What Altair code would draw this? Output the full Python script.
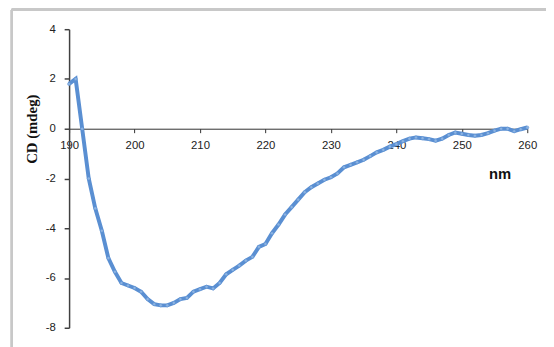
import altair as alt
import pandas as pd

wavelength = list(range(190, 261))
cd_mdeg = [
    1.8, 2.0, 0.0, -2.0, -3.2, -4.1, -5.2, -5.75, -6.2, -6.3,
    -6.4, -6.55, -6.85, -7.05, -7.1, -7.1, -7.0, -6.85, -6.8, -6.55,
    -6.45, -6.35, -6.42, -6.2, -5.85, -5.67, -5.5, -5.3, -5.15, -4.75,
    -4.63, -4.2, -3.85, -3.45, -3.15, -2.85, -2.55, -2.35, -2.2, -2.05,
    -1.95, -1.8, -1.55, -1.45, -1.35, -1.25, -1.1, -0.95, -0.85, -0.72,
    -0.62, -0.5, -0.4, -0.35, -0.38, -0.42, -0.48, -0.4, -0.25, -0.15,
    -0.2, -0.25, -0.28, -0.25, -0.18, -0.08, 0.0, 0.0, -0.1, -0.02,
    0.05,
]
x_ticks = [190, 200, 210, 220, 230, 240, 250, 260]
y_ticks = [4, 2, 0, -2, -4, -6, -8]

df = pd.DataFrame({"nm": wavelength, "cd": cd_mdeg})

W, H = 465, 303
LINE_COLOR = "#5A8FD2"

x_enc = alt.X(
    "nm:Q",
    scale=alt.Scale(domain=[190, 260], nice=False, zero=False),
    axis=alt.Axis(
        values=x_ticks, offset=-202, grid=False, domainColor="#303030",
        tickColor="#303030", tickSize=4, labelPadding=7, labelFlush=False,
        labelFont="Liberation Sans", labelFontSize=11.5, labelColor="#222",
        title="nm", titleFont="Liberation Sans", titleFontSize=15,
        titleFontWeight="bold", titleColor="#111", titleX=437, titleY=46,
        titleAlign="center", titleBaseline="middle",
    ),
)
y_enc = alt.Y(
    "cd:Q",
    scale=alt.Scale(domain=[-8, 4], nice=False, zero=False),
    axis=alt.Axis(
        values=y_ticks, grid=False, domainColor="#404040", domainWidth=1.5,
        tickColor="#404040", tickSize=5, tickWidth=1.5, labelPadding=9,
        labelFlush=False,
        labelExpr="datum.value < 0 ? '-' + abs(datum.value) : '' + datum.value",
        labelFont="Liberation Sans", labelFontSize=11.5, labelColor="#222",
        title="CD (mdeg)", titleFont="Liberation Serif", titleFontSize=15,
        titleFontWeight="bold", titleColor="#111", titleX=-38, titleY=101,
        titleAlign="center", titleBaseline="middle", titleAngle=-90,
    ),
)

line = alt.Chart(df).mark_line(
    color=LINE_COLOR, strokeWidth=4,
    point=alt.OverlayMarkDef(filled=True, fill="#8DB4E2", size=10, stroke=LINE_COLOR, strokeWidth=0.5),
).encode(x=x_enc, y=y_enc)

frame_top = alt.Chart(df).mark_rule(color="#c8c8c8", strokeWidth=2).encode(
    x=alt.value(-58), x2=alt.value(W + 30), y=alt.value(-20)
)
frame_left = alt.Chart(df).mark_rule(color="#c8c8c8", strokeWidth=2).encode(
    x=alt.value(-58), y=alt.value(-20), y2=alt.value(H + 30)
)

chart = alt.layer(frame_top, frame_left, line).properties(
    width=W, height=H,
    autosize=alt.AutoSizeParams(type="none"),
    padding={"left": 62, "top": 19, "right": 19, "bottom": 17},
).configure_view(stroke=None)

chart.save("out.html", embed_options={"renderer": "svg", "actions": False})
